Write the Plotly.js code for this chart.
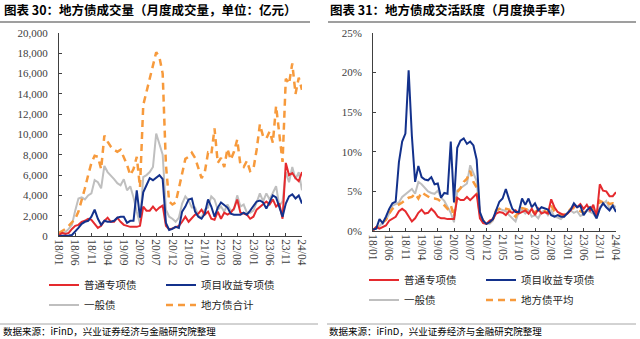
<!DOCTYPE html>
<html>
<head>
<meta charset="utf-8">
<script src="https://cdn.plot.ly/plotly-3.0.1.min.js"></script>
<style>html,body{margin:0;padding:0;background:#fff;}#chart{width:640px;height:339px;}</style>
</head>
<body>
<div id="chart"></div>
<script>
// Months 2018/01 .. 2024/04 (category labels)
const months = [];
for (let y = 18; y <= 24; y++) {
  for (let m = 1; m <= 12; m++) {
    if (y === 24 && m > 4) break;
    months.push(y + '/' + (m < 10 ? '0' + m : m));
  }
}
const tickLabels = ['18/01','18/06','18/11','19/04','19/09','20/02','20/07','20/12','21/05','21/10','22/03','22/08','23/01','23/06','23/11','24/04'];

// Left chart: monthly trading volume (亿元)
const volGeneralSpecial = [100,300,200,300,700,1000,1100,1400,1500,1700,1600,1200,800,1000,1500,1800,1400,1400,1800,1400,1100,1000,900,900,900,1000,2900,2500,2500,2900,2500,2800,3000,1000,650,750,900,1000,1400,1900,1400,1700,2100,2200,2600,2100,2400,1700,1600,2400,1700,2300,2100,2300,2700,3600,2300,2200,2100,1700,1900,2600,2900,3200,3400,3100,3600,2900,3200,1700,7200,6000,6200,5700,5400,6300];
const volProjectSpecial = [0,0,0,50,100,400,800,1200,1400,1500,1900,2600,1700,1100,1500,1400,1400,1500,1800,1900,1900,1300,1500,1500,4500,1800,4300,5000,5700,5500,5800,6000,5600,1300,600,700,900,800,2400,2900,3600,3700,2400,1900,1700,2200,3600,2900,1900,2800,3300,3000,2800,2200,2100,2100,2100,2300,2100,2500,3000,3400,3500,3300,2700,3300,4000,3800,2800,1900,3200,3900,4100,3700,4000,3200];
const volGeneral = [150,300,400,700,1100,2500,3700,3800,3600,4000,4200,5500,5300,4700,6900,6300,6000,5600,5200,5000,5600,4500,4900,3800,2400,1200,5800,6000,6300,6800,10100,9000,8000,2600,1900,1700,1400,1800,3200,3900,3500,2800,2800,2000,1800,2600,2800,3900,3600,2600,2900,2400,3100,2500,2600,4000,2900,3100,2300,2300,2500,3300,4200,3400,4200,3600,4200,4900,3000,3400,6300,5300,6800,5600,6300,4500];
const volTotal = [300,500,700,1000,1300,1700,2400,3500,4700,6000,7200,7900,7800,6600,9900,9300,8800,8500,8300,8500,7700,7000,6000,6600,7800,4800,12900,14200,15200,16500,18100,17600,16000,7000,3400,3100,3300,4700,6300,7600,7800,8200,7700,6800,5700,6300,8200,8000,10600,7200,7700,6800,8600,7500,8300,9500,7000,6800,7400,6400,6600,8500,11000,9800,9600,10300,9200,12800,10000,7300,15500,15000,17000,14000,15600,14400];

// Right chart: monthly turnover rate (%)
const turnGeneralSpecial = [0.1,0.5,0.3,0.5,0.7,1.3,1.5,1.8,2.5,2.8,2.5,1.8,1.2,1.6,2.3,2.7,2.2,2.3,2.8,2.4,1.8,1.6,1.6,1.5,1.5,1.5,4.2,3.9,3.9,4.3,3.9,4.3,4.7,1.6,1.0,0.9,1.3,1.5,2.2,2.4,2.3,2.0,2.5,2.3,2.6,2.2,2.4,2.6,2.2,2.8,2.0,2.8,2.2,2.4,2.2,4.0,3.0,2.4,2.2,2.0,2.2,2.6,3.3,3.0,3.4,2.8,3.3,2.6,3.3,1.8,5.9,5.1,5.0,4.4,4.4,4.9];
const turnProjectSpecial = [0.2,0.3,1.5,1.0,1.8,2.8,3.5,3.7,8.7,11.3,12.3,20.3,12.0,6.2,8.2,6.8,6.5,6.4,6.8,5.9,6.0,4.2,4.8,4.7,11.3,3.6,10.5,11.4,11.7,11.0,11.3,10.8,9.0,2.4,1.3,0.9,1.1,1.5,2.6,3.7,4.1,5.3,4.0,2.8,2.4,2.4,4.1,3.3,4.1,3.0,3.5,2.6,3.0,2.8,2.7,2.0,1.8,2.0,1.8,1.8,2.2,2.7,3.5,3.0,3.2,2.0,2.6,3.0,2.4,1.6,2.8,3.5,3.0,2.6,3.2,2.4];
const turnGeneral = [0.1,0.3,0.6,1.1,1.4,2.2,3.2,3.4,3.6,4.3,4.6,4.9,5.3,4.7,6.2,5.9,5.5,5.0,4.8,4.7,5.1,4.2,3.8,3.1,2.3,1.1,5.1,5.4,5.7,6.0,8.3,7.3,6.3,2.0,1.3,0.9,0.9,1.3,2.5,2.8,2.6,2.5,2.0,1.6,1.2,2.4,2.7,2.2,2.6,1.8,2.0,1.6,2.4,2.6,2.0,2.6,1.8,1.7,1.5,1.9,2.3,2.6,2.3,2.5,1.9,2.1,2.6,2.4,2.2,1.6,3.0,3.4,3.8,2.8,3.3,3.0];
const turnAverage = [0.1,0.5,0.8,1.1,1.4,2.2,2.8,3.1,3.3,3.6,3.9,4.2,4.3,4.7,4.1,4.9,4.6,4.3,4.1,4.1,4.0,3.7,3.2,2.8,3.3,1.8,4.9,5.4,6.2,6.6,7.6,6.2,5.5,2.0,1.3,1.1,1.1,1.5,2.6,2.8,3.0,2.8,2.7,2.2,1.8,2.6,2.9,2.8,2.6,2.4,2.4,2.6,2.5,2.5,2.3,3.2,2.5,2.1,2.0,2.1,2.3,2.8,2.9,2.7,2.6,2.3,2.9,3.0,2.7,2.0,3.8,3.6,3.8,3.4,3.5,3.3];

const namesLeft = ['普通专项债','项目收益专项债','一般债','地方债合计'];
const namesRight = ['普通专项债','项目收益专项债','一般债','地方债平均'];

const RED = '#E52A2E', BLUE = '#13318C', GRAY = '#BFBFBF', ORANGE = '#F79A3C';
const CJK = 'Noto Sans CJK SC';
const SERIF = 'Liberation Serif';

function tr(y, name, color, xa, ya, leg, dash) {
  return {
    x: months, y: y, name: name, type: 'scatter', mode: 'lines',
    xaxis: xa, yaxis: ya, legend: leg,
    line: {color: color, width: dash ? 2.5 : 2, dash: dash || 'solid'},
    hoverinfo: 'skip'
  };
}

const data = [
  tr(volGeneral, namesLeft[2], GRAY, 'x', 'y', 'legend3'),
  tr(volTotal, namesLeft[3], ORANGE, 'x', 'y', 'legend4', '7px,5px'),
  tr(volGeneralSpecial, namesLeft[0], RED, 'x', 'y', 'legend'),
  tr(volProjectSpecial, namesLeft[1], BLUE, 'x', 'y', 'legend2'),
  tr(turnGeneral, namesRight[2], GRAY, 'x2', 'y2', 'legend7'),
  tr(turnAverage, namesRight[3], ORANGE, 'x2', 'y2', 'legend8', '7px,5px'),
  tr(turnGeneralSpecial, namesRight[0], RED, 'x2', 'y2', 'legend5'),
  tr(turnProjectSpecial, namesRight[1], BLUE, 'x2', 'y2', 'legend6')
];

const W = 640, H = 339;
const px = v => v / W, py = v => (H - v) / H;

function xax(domain, anchor) {
  return {
    domain: domain, anchor: anchor, type: 'category',
    range: [0, months.length - 1],
    tickmode: 'array', tickvals: tickLabels, ticktext: tickLabels,
    tickangle: 90, ticks: 'inside', ticklen: 3, tickcolor: '#404040',
    showline: true, linecolor: '#404040', linewidth: 1,
    showgrid: false, zeroline: false,
    tickfont: {family: SERIF, size: 11.5, color: '#404040'}
  };
}
function yax(domain, anchor, extra) {
  return Object.assign({
    domain: domain, anchor: anchor,
    ticks: 'inside', ticklen: 3, tickcolor: '#404040',
    showline: true, linecolor: '#404040', linewidth: 1,
    showgrid: false, zeroline: false,
    ticklabelstandoff: 8,
    tickfont: {family: SERIF, size: 11, color: '#404040'}
  }, extra);
}

function leg(x, y) {
  return {x: x, y: y, xanchor: 'left', yanchor: 'middle', orientation: 'v',
    bgcolor: 'rgba(0,0,0,0)', itemwidth: 30,
    font: {family: CJK, size: 10.5, color: '#262626'}};
}

const layout = {
  width: W, height: H,
  margin: {l: 0, r: 0, t: 0, b: 0},
  paper_bgcolor: '#fff', plot_bgcolor: '#fff',
  showlegend: true,
  xaxis: xax([px(59), px(302)], 'y'),
  yaxis: yax([py(236), py(33)], 'x', {range: [0, 20000], dtick: 2000, tickformat: ',d'}),
  xaxis2: xax([px(373), px(616)], 'y2'),
  yaxis2: yax([py(231), py(33)], 'x2', {range: [0, 25], dtick: 5, ticksuffix: '%'}),
  legend: leg(px(44), py(285)),
  legend2: leg(px(161), py(285)),
  legend3: leg(px(44), py(305)),
  legend4: leg(px(161), py(305)),
  legend5: leg(px(364), py(280)),
  legend6: leg(px(481), py(280)),
  legend7: leg(px(364), py(300)),
  legend8: leg(px(481), py(300)),
  annotations: [
    {text: '<b>图表 30：地方债成交量（月度成交量，单位：亿元）</b>', xref: 'paper', yref: 'paper',
     x: px(2), y: py(10), xanchor: 'left', yanchor: 'middle', showarrow: false,
     font: {family: CJK, size: 12.5, color: '#000'}},
    {text: '<b>图表 31：地方债成交活跃度（月度换手率）</b>', xref: 'paper', yref: 'paper',
     x: px(328), y: py(10), xanchor: 'left', yanchor: 'middle', showarrow: false,
     font: {family: CJK, size: 12.5, color: '#000'}},
    {text: '数据来源：iFinD，兴业证券经济与金融研究院整理', xref: 'paper', yref: 'paper',
     x: px(1), y: py(331), xanchor: 'left', yanchor: 'middle', showarrow: false,
     font: {family: CJK, size: 9.5, color: '#000'}},
    {text: '数据来源：iFinD，兴业证券经济与金融研究院整理', xref: 'paper', yref: 'paper',
     x: px(327), y: py(331), xanchor: 'left', yanchor: 'middle', showarrow: false,
     font: {family: CJK, size: 9.5, color: '#000'}}
  ],
  shapes: [
    {type: 'line', xref: 'paper', yref: 'paper', x0: 0, x1: px(310), y0: py(22), y1: py(22), line: {color: '#7f7f7f', width: 1.5}},
    {type: 'line', xref: 'paper', yref: 'paper', x0: px(328), x1: px(636), y0: py(22), y1: py(22), line: {color: '#7f7f7f', width: 1.5}},
    {type: 'line', xref: 'paper', yref: 'paper', x0: 0, x1: px(318), y0: py(324), y1: py(324), line: {color: '#a6a6a6', width: 1}},
    {type: 'line', xref: 'paper', yref: 'paper', x0: px(327), x1: px(636), y0: py(324), y1: py(324), line: {color: '#a6a6a6', width: 1}}
  ]
};

Plotly.newPlot('chart', data, layout, {staticPlot: true, displayModeBar: false});
</script>
</body>
</html>
